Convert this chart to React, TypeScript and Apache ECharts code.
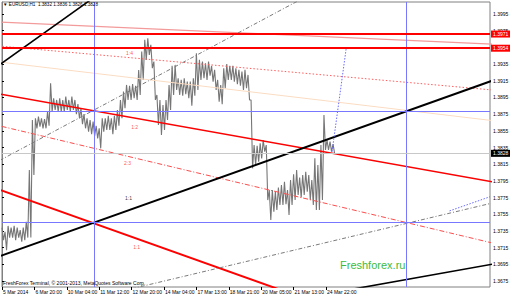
import React, { useEffect, useRef } from "react";
import * as echarts from "echarts";

// EURUSD H1 — highs and lows sampled every 3 bars
const barsPerSample = 3;
const sampleHigh = [
  1.3739, 1.3734, 1.3741, 1.3739, 1.3741, 1.3739, 1.3736, 1.3739, 1.3746, 1.3808,
  1.3868, 1.387, 1.3872, 1.387, 1.3869, 1.3878, 1.3912, 1.3894, 1.3892, 1.3894,
  1.3892, 1.3896, 1.3892, 1.3896, 1.3892, 1.3887, 1.3882, 1.3875, 1.387, 1.3868,
  1.3866, 1.3861, 1.3858, 1.387, 1.387, 1.3873, 1.387, 1.3873, 1.388, 1.3892,
  1.3902, 1.391, 1.3909, 1.3911, 1.3909, 1.3928, 1.395, 1.3964, 1.3966, 1.3958,
  1.3938, 1.3898, 1.3892, 1.3886, 1.3892, 1.391, 1.3933, 1.3934, 1.3918, 1.3916,
  1.3918, 1.3914, 1.3914, 1.3918, 1.3948, 1.394, 1.3938, 1.3936, 1.3938, 1.3933,
  1.3928, 1.3916, 1.391, 1.393, 1.3935, 1.3933, 1.3933, 1.393, 1.3928, 1.3926,
  1.3928, 1.3922, 1.3892, 1.3838, 1.3837, 1.384, 1.3844, 1.3838, 1.3784, 1.3784,
  1.3782, 1.3787, 1.379, 1.3794, 1.3784, 1.3796, 1.3803, 1.3808, 1.3799, 1.3802,
  1.3806, 1.3802, 1.3796, 1.3822, 1.3814, 1.3838, 1.3874, 1.3844, 1.3842, 1.3839,
];
const sampleLow = [
  1.3724, 1.3712, 1.3727, 1.3727, 1.3724, 1.3727, 1.3722, 1.3724, 1.3727, 1.3727,
  1.3802, 1.3858, 1.386, 1.3858, 1.3858, 1.3861, 1.3878, 1.388, 1.3878, 1.3878,
  1.3878, 1.388, 1.3878, 1.388, 1.3875, 1.387, 1.3863, 1.3858, 1.3854, 1.3851,
  1.3849, 1.3846, 1.3834, 1.3854, 1.3856, 1.3856, 1.3851, 1.3856, 1.3861, 1.387,
  1.3882, 1.3892, 1.3892, 1.3894, 1.3892, 1.3898, 1.3916, 1.394, 1.3946, 1.393,
  1.3892, 1.3862, 1.385, 1.3856, 1.3868, 1.388, 1.3898, 1.3904, 1.3898, 1.3897,
  1.3899, 1.3894, 1.3885, 1.3897, 1.3904, 1.3916, 1.3918, 1.3916, 1.3921, 1.3914,
  1.3904, 1.389, 1.3887, 1.3906, 1.3916, 1.3916, 1.3914, 1.3911, 1.3909, 1.3904,
  1.3906, 1.3892, 1.381, 1.3814, 1.3818, 1.3822, 1.383, 1.3772, 1.3748, 1.3758,
  1.376, 1.3766, 1.3766, 1.3767, 1.3754, 1.3766, 1.3772, 1.3778, 1.3775, 1.3778,
  1.3782, 1.3772, 1.3766, 1.376, 1.376, 1.3772, 1.3832, 1.3832, 1.383, 1.3828,
];

// Last bar: open, high, low, close
const lastBarOHLC = [1.3832, 1.3836, 1.3826, 1.3828];

// Time axis
const timeLabels = [
  "5 Mar 2014", "6 Mar 20:00", "10 Mar 04:00", "11 Mar 12:00", "12 Mar 20:00",
  "14 Mar 04:00", "17 Mar 13:00", "18 Mar 21:00", "20 Mar 05:00", "21 Mar 13:00",
  "24 Mar 22:00",
];
const timeLabelBars = [0, 32, 64, 96, 128, 160, 192, 224, 256, 288, 320];

// Price axis
const priceTicks = [
  1.3675, 1.3695, 1.3715, 1.3735, 1.3755, 1.3775, 1.3795, 1.3815, 1.3835,
  1.3855, 1.3875, 1.3895, 1.3915, 1.3935, 1.3955, 1.3975, 1.3995,
];
const priceMin = 1.36678;
const priceMax = 1.40094;
const barMax = 482;

// Horizontal levels
const resistanceLevels = [1.3971, 1.3954];
const gridLevels = [1.3879, 1.3745];
const gridBars = [91, 399];

// Gann fans sharing one anchor bar
const fanOriginBar = -533;
const redFanOrigin = 1.4014;
const blackFanOrigin = 1.3475;
const fanUnit = 0.00004327; // price per bar on the 1x1 angle
const redFanRatios = [1 / 8, 1 / 4, 1 / 3, 1 / 2, 2 / 3, 1];
const blackFanRatios = [2, 3 / 2, 1, 2 / 3, 1 / 2];

// Fan labels
const fanLabelText = ["1:4", "1:2", "2:3", "1:1", "1:1"];
const fanLabelBar = [126, 131, 124, 125, 133];
const fanLabelPrice = [1.3948, 1.3859, 1.3816, 1.3775, 1.3716];
const fanLabelFan = ["red", "red", "red", "black", "red"];

// Dotted projections
const projectionA = [[326, 1.383], [340, 1.3954]];
const projectionB = [[442, 1.3759], [482, 1.3776]];

const FONT = "'Liberation Sans', 'DejaVu Sans', Arial, sans-serif";

const redFanStyles: any[] = [
  { color: "#f39a9a", width: 1.2, type: "solid" },
  { color: "#ff5c5c", width: 1, type: [1.5, 2] },
  { color: "#fbdcc2", width: 1, type: "solid" },
  { color: "#ff0000", width: 1.6, type: "solid" },
  { color: "#ff4d4d", width: 1, type: [5, 2, 1, 2] },
  { color: "#ff0000", width: 2, type: "solid" },
];
const blackFanStyles: any[] = [
  { color: "#000000", width: 1.6, type: "solid" },
  { color: "#7a7a7a", width: 1, type: [4, 2, 1, 2] },
  { color: "#000000", width: 2, type: "solid" },
  { color: "#7a7a7a", width: 1, type: [4, 2, 1, 2] },
  { color: "#000000", width: 1.6, type: "solid" },
];

function fanLine(origin: number, dir: number, ratio: number) {
  const at = (b: number) => origin + dir * ratio * fanUnit * (b - fanOriginBar);
  const from = -10;
  const to = barMax + 10;
  return [
    [from, at(from)],
    [to, at(to)],
  ];
}

export default function App() {
  const ref = useRef<HTMLDivElement>(null);

  useEffect(() => {
    if (!ref.current) return;
    const chart = echarts.init(ref.current, undefined, { renderer: "svg" });

    const pricePath: number[][] = [];
    sampleHigh.forEach((h, i) => {
      const b = i * barsPerSample;
      pricePath.push([b, h], [b + barsPerSample / 2, sampleLow[i]]);
    });

    const lastClose = lastBarOHLC[3];

    const fanSeries: any[] = [];
    redFanRatios.forEach((r, i) => {
      fanSeries.push({
        type: "line",
        data: fanLine(redFanOrigin, -1, r),
        symbol: "none",
        silent: true,
        lineStyle: redFanStyles[i],
        z: 3,
      });
    });
    blackFanRatios.forEach((r, i) => {
      fanSeries.push({
        type: "line",
        data: fanLine(blackFanOrigin, 1, r),
        symbol: "none",
        silent: true,
        lineStyle: blackFanStyles[i],
        z: 3,
      });
    });

    const projectionSeries = [projectionA, projectionB].map((d) => ({
      type: "line",
      data: d,
      symbol: "none",
      silent: true,
      lineStyle: { color: "#6c6cff", width: 1, type: [1.5, 1.5] },
      z: 3,
    }));

    const labelData = fanLabelText.map((t, i) => ({
      value: [fanLabelBar[i], fanLabelPrice[i]],
      label: {
        show: true,
        formatter: t,
        position: "inside",
        color: fanLabelFan[i] === "red" ? "#ff2a2a" : "#000000",
        fontSize: 5,
        fontFamily: FONT,
      },
    }));

    const blueLine = { color: "#7777ff", width: 1, type: "solid" };
    const boxLabel = (text: string, bg: string) => ({
      show: true,
      position: "end",
      formatter: text,
      backgroundColor: bg,
      color: "#fff",
      fontSize: 5,
      padding: [1, 2, 1, 2],
      distance: 1,
      fontFamily: FONT,
    });

    const option: any = {
      animation: false,
      backgroundColor: "#ffffff",
      textStyle: { fontFamily: FONT },
      grid: {
        left: 2,
        right: 20,
        top: 2,
        bottom: 8,
        show: true,
        borderColor: "#808080",
        borderWidth: 1,
        backgroundColor: "#ffffff",
        containLabel: false,
        outerBoundsMode: "none",
      },
      xAxis: {
        type: "value",
        min: 0,
        max: barMax,
        splitLine: { show: false },
        axisLine: { show: false },
        axisTick: {
          show: true,
          customValues: timeLabelBars,
          length: 3,
          lineStyle: { color: "#000" },
        },
        axisLabel: {
          customValues: timeLabelBars,
          formatter: (v: number) => timeLabels[timeLabelBars.indexOf(v)] ?? "",
          align: "left",
          fontSize: 5,
          color: "#000",
          margin: 2,
          padding: [0, 0, 0, 1],
          fontFamily: FONT,
        },
      },
      yAxis: {
        type: "value",
        position: "right",
        min: priceMin,
        max: priceMax,
        splitLine: { show: false },
        axisLine: { show: true, lineStyle: { color: "#808080" } },
        axisTick: {
          show: true,
          customValues: priceTicks,
          length: 2,
          lineStyle: { color: "#000" },
        },
        axisLabel: {
          customValues: priceTicks,
          formatter: (v: number) => v.toFixed(4),
          fontSize: 5,
          color: "#000",
          margin: 3,
          fontFamily: FONT,
        },
      },
      graphic: [
        {
          type: "text",
          left: 3,
          top: 2,
          style: {
            text: "▼ EURUSD,H1  " + lastBarOHLC.map((v) => v.toFixed(4)).join(" "),
            fontSize: 4.6,
            fill: "#000",
            fontFamily: FONT,
          },
          z: 100,
        },
        {
          type: "text",
          left: 3,
          top: 280,
          style: {
            text: "FreshForex Terminal, © 2001-2013, MetaQuotes Software Corp.",
            fontSize: 5,
            fill: "#000",
            fontFamily: FONT,
          },
          z: 100,
        },
        {
          type: "text",
          left: 340,
          top: 259,
          style: {
            text: "Freshforex.ru",
            fontSize: 11,
            fill: "#3dbb3d",
            fontFamily: FONT,
          },
          z: 100,
        },
      ],
      series: [
        {
          type: "line",
          data: pricePath,
          symbol: "none",
          silent: true,
          lineStyle: { color: "#767676", width: 1.1 },
          z: 2,
          markLine: {
            silent: true,
            precision: 4,
            symbol: ["none", "none"],
            animation: false,
            data: [
              ...gridBars.map((b) => ({ xAxis: b, lineStyle: blueLine, label: { show: false } })),
              ...gridLevels.map((p) => ({ yAxis: p, lineStyle: blueLine, label: { show: false } })),
              {
                yAxis: lastClose,
                lineStyle: { color: "#c8c8c8", width: 1, type: "solid" },
                label: boxLabel(lastClose.toFixed(4), "#000000"),
              },
              ...resistanceLevels.map((p) => ({
                yAxis: p,
                lineStyle: { color: "#ff0000", width: 2, type: "solid" },
                label: boxLabel(p.toFixed(4), "#ff0000"),
              })),
            ],
          },
        },
        ...fanSeries,
        ...projectionSeries,
        {
          type: "scatter",
          data: labelData,
          symbolSize: 1,
          itemStyle: { color: "transparent" },
          silent: true,
          z: 5,
        },
      ],
    };

    chart.setOption(option);
    return () => chart.dispose();
  }, []);

  return (
    <div
      ref={ref}
      style={{ position: "fixed", left: 0, top: 0, width: 510, height: 295, background: "#fff" }}
    />
  );
}
